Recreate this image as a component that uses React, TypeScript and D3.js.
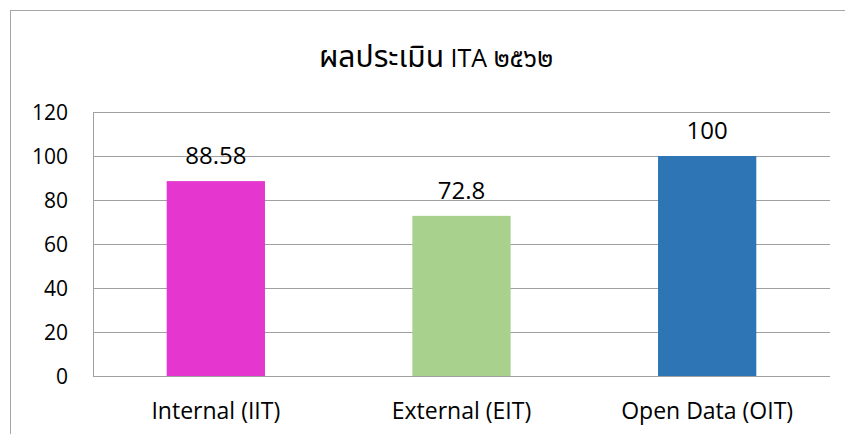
import { useEffect, useRef } from 'react'
import * as d3 from 'd3'

const categories = ['Internal (IIT)', 'External (EIT)', 'Open Data (OIT)']
const scores = [88.58, 72.8, 100]
const scoreLabels = ['88.58', '72.8', '100']
const barColors = ['#E536CF', '#A9D18E', '#2E75B6']
const yTicks = [0, 20, 40, 60, 80, 100, 120]
// title pieces: Thai word, Latin acronym, Thai-digit year
const titleParts = ['ผลประเมิน', '\u00a0ITA\u00a0', '๒๕๖๒']
const titleSizes = [30, 25, 26]

const App: React.FC = () => {
  const svgRef = useRef<SVGSVGElement>(null)

  useEffect(() => {
    if (!svgRef.current) return
    const width = 845
    const height = 434
    const margin = { top: 112, right: 15, bottom: 58, left: 93 }
    const font = "'Open Sans', 'Noto Sans Thai', 'Noto Sans', sans-serif"

    const svg = d3.select(svgRef.current)
      .attr('width', width)
      .attr('height', height)
      .style('display', 'block')
      .style('position', 'absolute')
      .style('left', 0)
      .style('top', 0)
    svg.selectAll('*').remove()

    svg.append('rect')
      .attr('x', 10.5).attr('y', 10.5)
      .attr('width', width).attr('height', height)
      .style('fill', '#fff')
      .style('stroke', '#A6A6A6')
      .style('stroke-width', 1)

    const t = svg.append('text')
      .attr('x', 436).attr('y', 67)
      .attr('text-anchor', 'middle')
      .style('font-family', font)
      .style('fill', '#000')
    t.selectAll('tspan')
      .data(titleParts)
      .enter().append('tspan')
      .style('font-size', (d, i) => titleSizes[i] + 'px')
      .text(d => d)

    const x = d3.scaleBand<string>()
      .domain(categories)
      .range([margin.left, width - margin.right])
      .paddingInner(0.6)
      .paddingOuter(0.3)

    const y = d3.scaleLinear()
      .domain([0, 120])
      .range([height - margin.bottom, margin.top])

    const g = svg.append('g')

    g.selectAll('.grid')
      .data(yTicks)
      .enter().append('line')
      .attr('x1', margin.left)
      .attr('x2', width - margin.right)
      .attr('y1', d => Math.round(y(d)) + 0.5)
      .attr('y2', d => Math.round(y(d)) + 0.5)
      .style('stroke', '#A0A0A0')
      .style('stroke-width', 1)

    g.append('line')
      .attr('x1', margin.left + 0.5).attr('x2', margin.left + 0.5)
      .attr('y1', y(120)).attr('y2', y(0))
      .style('stroke', '#A0A0A0')

    g.selectAll('.ytick')
      .data(yTicks)
      .enter().append('text')
      .attr('x', 68)
      .attr('y', d => y(d))
      .attr('dy', '0.36em')
      .attr('text-anchor', 'end')
      .style('font-family', font)
      .style('font-size', '21px')
      .text(d => d)

    g.selectAll('.bar')
      .data(scores)
      .enter().append('rect')
      .attr('x', (d, i) => x(categories[i])!)
      .attr('width', x.bandwidth())
      .attr('y', d => y(d))
      .attr('height', d => y(0) - y(d))
      .style('fill', (d, i) => barColors[i])

    g.selectAll('.value')
      .data(scores)
      .enter().append('text')
      .attr('x', (d, i) => x(categories[i])! + x.bandwidth() / 2)
      .attr('y', d => y(d) - 17)
      .attr('text-anchor', 'middle')
      .style('font-family', font)
      .style('font-size', '24px')
      .text((d, i) => scoreLabels[i])

    g.selectAll('.cat')
      .data(categories)
      .enter().append('text')
      .attr('x', d => x(d)! + x.bandwidth() / 2)
      .attr('y', 419)
      .attr('text-anchor', 'middle')
      .style('font-family', font)
      .style('font-size', '23px')
      .text(d => d)
  }, [])

  return <svg ref={svgRef}></svg>
}

export default App
